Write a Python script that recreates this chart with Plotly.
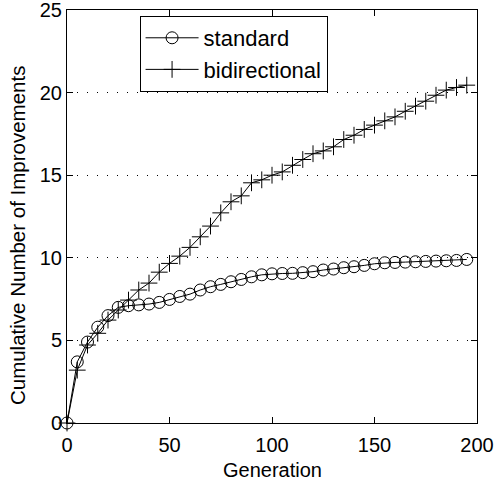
import plotly.graph_objects as go

generation = list(range(0, 200, 5))

standard = [0, 3.7, 4.9, 5.8, 6.5, 7.0, 7.1, 7.15, 7.2, 7.3,
            7.48, 7.66, 7.8, 8.05, 8.25, 8.39, 8.55, 8.69, 8.85, 8.97,
            9.03, 9.05, 9.06, 9.1, 9.16, 9.26, 9.32, 9.4, 9.46, 9.54,
            9.64, 9.7, 9.72, 9.74, 9.76, 9.78, 9.8, 9.82, 9.84, 9.9]

bidirectional = [0, 3.2, 4.72, 5.43, 6.23, 6.84, 7.44, 8.05, 8.47, 9.13,
                 9.66, 10.1, 10.63, 11.27, 11.92, 12.72, 13.39, 13.75, 14.54, 14.72,
                 15.0, 15.2, 15.6, 15.95, 16.3, 16.47, 16.72, 17.16, 17.42, 17.77,
                 18.03, 18.29, 18.53, 18.87, 19.18, 19.48, 19.84, 20.15, 20.31, 20.45]

series_names = ["standard", "bidirectional"]

x_ticks = [0, 50, 100, 150, 200]
y_ticks = [0, 5, 10, 15, 20, 25]

x_title = "Generation"
y_title = "Cumulative Number of Improvements"

FONT = "Liberation Sans, Arial, Helvetica, sans-serif"

fig = go.Figure()
fig.add_trace(go.Scatter(
    x=generation, y=standard, name=series_names[0], mode="lines+markers",
    line=dict(color="black", width=1),
    marker=dict(symbol="circle-open", size=12, color="black", line=dict(width=1, color="black")),
    cliponaxis=False,
))
fig.add_trace(go.Scatter(
    x=generation, y=bidirectional, name=series_names[1], mode="lines+markers",
    line=dict(color="black", width=1),
    marker=dict(symbol="cross-thin-open", size=12, color="black", line=dict(width=1, color="black")),
    cliponaxis=False,
))

fig.update_layout(
    width=494, height=480,
    margin=dict(l=67, r=17, t=10, b=57, autoexpand=False),
    paper_bgcolor="white", plot_bgcolor="white",
    font=dict(family=FONT, size=20, color="black"),
    showlegend=True,
    legend=dict(
        x=0.177, y=0.9855, xanchor="left", yanchor="top",
        bgcolor="white", bordercolor="black", borderwidth=1,
        font=dict(family=FONT, size=22, color="black"),
        itemwidth=53,
        tracegroupgap=0,
    ),
    annotations=[
        dict(text=x_title, xref="paper", yref="paper", x=0.5, y=-0.114,
             xanchor="center", yanchor="middle", showarrow=False,
             font=dict(family=FONT, size=20, color="black")),
        dict(text=y_title, xref="paper", yref="paper", x=-0.122, y=0.455,
             xanchor="center", yanchor="middle", showarrow=False, textangle=-90,
             font=dict(family=FONT, size=20.5, color="black")),
    ],
)
fig.update_xaxes(
    range=[0, 200], tickvals=x_ticks, ticktext=[str(v) for v in x_ticks],
    automargin=False, ticklabeloverflow="allow", ticklabelstandoff=4,
    showline=True, linecolor="black", linewidth=1, mirror="ticks",
    ticks="inside", ticklen=6, tickcolor="black", tickwidth=1,
    showgrid=False, zeroline=False,
    tickfont=dict(family=FONT, size=20, color="black"),
)
fig.update_yaxes(
    range=[0, 25], tickvals=y_ticks, ticktext=[str(v) for v in y_ticks],
    automargin=False, ticklabeloverflow="allow",
    showline=True, linecolor="black", linewidth=1, mirror="ticks",
    ticks="inside", ticklen=6, tickcolor="black", tickwidth=1,
    showgrid=True, gridcolor="black", gridwidth=1, griddash="1px,9px",
    zeroline=False,
    tickfont=dict(family=FONT, size=20, color="black"),
)

fig.write_html(
    "out.html",
    config={"displayModeBar": False},
    post_script="document.body.style.margin='0';document.body.style.overflow='hidden';",
)
